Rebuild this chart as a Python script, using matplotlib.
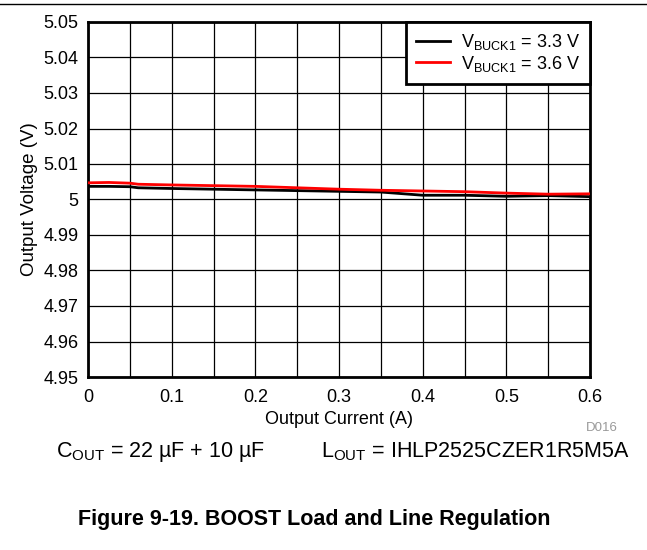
import matplotlib.pyplot as plt
from matplotlib.lines import Line2D
import numpy as np

plt.rcParams['font.family'] = ['Liberation Sans', 'DejaVu Sans']

# load current (A) and measured output voltage (V)
current = [0.0, 0.025, 0.05, 0.06, 0.1, 0.15, 0.2, 0.25, 0.3, 0.35, 0.4, 0.45, 0.5, 0.55, 0.6]
v_33 = [5.0037, 5.0037, 5.0036, 5.0033, 5.0031, 5.0029, 5.0027, 5.0025, 5.0023, 5.0021,
        5.0012, 5.0012, 5.0009, 5.0011, 5.0008]
v_36 = [5.0047, 5.0048, 5.0046, 5.0043, 5.0041, 5.0039, 5.0037, 5.0033, 5.0029, 5.0026,
        5.0024, 5.0022, 5.0018, 5.0015, 5.0016]

x_ticks = [0, 0.1, 0.2, 0.3, 0.4, 0.5, 0.6]
x_labels = ['0', '0.1', '0.2', '0.3', '0.4', '0.5', '0.6']
y_ticks = [4.95, 4.96, 4.97, 4.98, 4.99, 5.0, 5.01, 5.02, 5.03, 5.04, 5.05]
y_labels = ['4.95', '4.96', '4.97', '4.98', '4.99', '5', '5.01', '5.02', '5.03', '5.04', '5.05']

fig = plt.figure(figsize=(6.47, 5.5), dpi=100)
ax = fig.add_axes([88 / 647, 1 - 377 / 550, 502 / 647, 355 / 550])

ax.plot(current, v_33, color='black', lw=2, label=r'V$_{\mathregular{BUCK1}}$ = 3.3 V', zorder=3)
ax.plot(current, v_36, color='#ff0000', lw=2, label=r'V$_{\mathregular{BUCK1}}$ = 3.6 V', zorder=3)

ax.set_xlim(0, 0.6)
ax.set_ylim(4.95, 5.05)
ax.set_xticks(np.arange(0, 0.6001, 0.05), minor=True)
ax.set_xticks(x_ticks)
ax.set_xticklabels(x_labels)
ax.set_yticks(y_ticks)
ax.set_yticklabels(y_labels)
ax.tick_params(which='both', length=0, labelsize=13)
ax.tick_params(axis='x', pad=9)
ax.tick_params(axis='y', pad=7)
ax.grid(True, which='both', color='black', lw=0.9)
for s in ax.spines.values():
    s.set_linewidth(2)

ax.set_xlabel('Output Current (A)', fontsize=13, labelpad=3)
ax.set_ylabel('Output Voltage (V)', fontsize=13.5, labelpad=4)

leg = ax.legend(loc='upper right', fontsize=13, frameon=True, fancybox=False,
                borderaxespad=0, handlelength=1.9, handletextpad=0.6,
                labelspacing=0.1, borderpad=0.55)
leg.get_frame().set_edgecolor('black')
leg.get_frame().set_linewidth(2)
leg.get_frame().set_alpha(1)

fig.add_artist(Line2D([0, 1], [1 - 4 / 550, 1 - 4 / 550], color='black', lw=1))
fig.text(618 / 647, 1 - 428 / 550, 'D016', fontsize=9.5, color='#999999', ha='right', va='center')
fig.text(56 / 647, 1 - 452 / 550, r'C$_{\mathregular{OUT}}$ = 22 µF + 10 µF', fontsize=15.5, va='center')
fig.text(321 / 647, 1 - 452 / 550, r'L$_{\mathregular{OUT}}$ = IHLP2525CZER1R5M5A', fontsize=15.5, va='center')
fig.text(314 / 647, 1 - 520 / 550, 'Figure 9-19. BOOST Load and Line Regulation',
         fontsize=15.5, fontweight='bold', ha='center', va='center')

fig.savefig('out.png', dpi=100)
